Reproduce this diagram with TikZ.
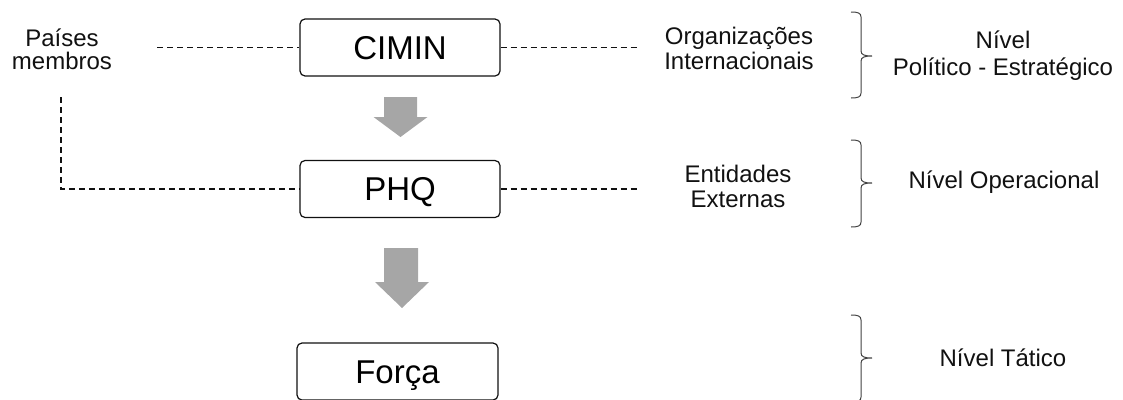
\documentclass[tikz,border=0pt]{standalone}
\usepackage{fontspec}
\setmainfont{Liberation Sans}
\definecolor{arrowgray}{HTML}{A6A6A6}
\definecolor{inkdark}{HTML}{111111}
\tikzset{
  levelbox/.style={draw=inkdark, line width=1.2pt, rounded corners=5pt,
    minimum width=200pt, minimum height=57pt, inner sep=0pt,
    text height=23.6pt, text depth=0pt, font=\fontsize{33pt}{36pt}\selectfont},
  sidelabel/.style={align=center, inner sep=0pt, text=inkdark,
    font=\fontsize{24pt}{25pt}\selectfont},
  levellabel/.style={align=center, inner sep=0pt, text=inkdark,
    font=\fontsize{24pt}{27pt}\selectfont},
  link/.style={draw=inkdark, line width=1.2pt, dash pattern=on 6pt off 4pt},
  blockarrow/.style={fill=arrowgray},
  levelbrace/.style={draw=inkdark!80, line width=1pt}
}
\begin{document}
\begin{tikzpicture}[x=1pt, y=-1pt]
\clip (0,0) rectangle (1123,399);

% command chain
\node[levelbox] (cimin) at (400,47.5) {CIMIN};
\node[levelbox] (phq)   at (400,189)  {PHQ};
\node[levelbox, minimum width=201pt] (forca) at (397.5,371.5) {Força};

% block arrows between the levels
\fill[blockarrow] (384,97) -- (417,97) -- (417,117) -- (427.5,117)
  -- (400.5,137) -- (373.5,117) -- (384,117) -- cycle;
\fill[blockarrow] (384,248) -- (418,248) -- (418,282) -- (429,282)
  -- (402,308) -- (375,282) -- (384,282) -- cycle;

% side participants
\node[sidelabel, font=\fontsize{24pt}{23pt}\selectfont] (membros) at (62,49) {Países\\membros};
\node[sidelabel] (orgs) at (739,48) {Organizações\\Internacionais};
\node[sidelabel] (ext)  at (738,186) {Entidades\\Externas};

\coordinate (membrosE) at (157,47.5);
\coordinate (membrosS) at (61,97);
\coordinate (orgsW) at (640,47.5);
\coordinate (extW)  at (640,189);

\draw[link] (membrosE) -- (cimin.west);
\draw[link] (membrosS) |- (phq.west);
\draw[link] (cimin.east) -- (orgsW);
\draw[link] (phq.east) -- (extW);

% level braces
\foreach \t/\m/\b in {12/56/98, 140/183/227, 315/358/402}{
  \draw[levelbrace] (851,\t) .. controls (858,\t) and (861,\t+1) .. (861,\t+5)
    -- (861,\m-5) .. controls (861,\m-1) and (865,\m) .. (872,\m)
    .. controls (865,\m) and (861,\m+1) .. (861,\m+5)
    -- (861,\b-5) .. controls (861,\b-1) and (858,\b) .. (851,\b);
}

% level names
\node[levellabel] (lvpol) at (1003,56) {Nível\\Político - Estratégico};
\node[levellabel, anchor=base] (lvop) at (1004,188) {Nível Operacional};
\node[levellabel, anchor=base] (lvtat) at (1003,366.5) {Nível Tático};
\end{tikzpicture}
\end{document}
